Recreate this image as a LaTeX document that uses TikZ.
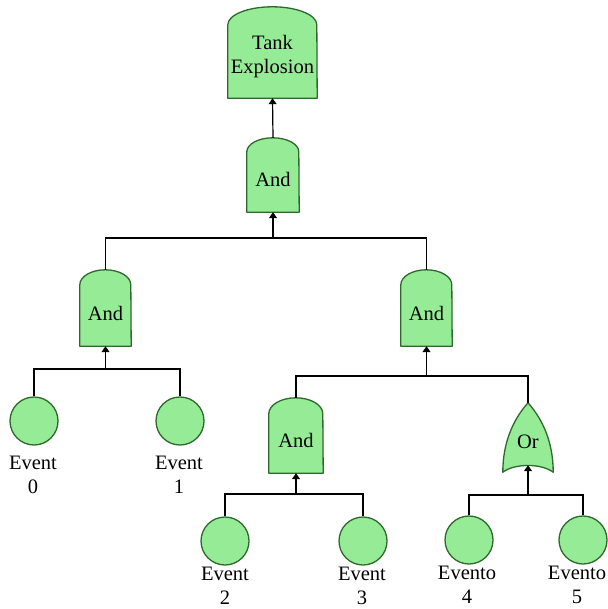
\documentclass[tikz,border=0pt]{standalone}
\usepackage{fontspec}
\setmainfont{Liberation Serif}
\usetikzlibrary{arrows.meta,calc,backgrounds}
\definecolor{gfill}{RGB}{150,235,150}
\definecolor{gline}{RGB}{45,105,45}
\newcommand\drawandgate[3]{\path[gshape] (#1.south west) -- ($(#1.north west)+(0,#3)$) arc[start angle=180,end angle=0,x radius=#2pt,y radius=#3pt] -- (#1.south east) -- cycle;}
\begin{document}
\begin{tikzpicture}[x=1pt,y=-1pt,
  font=\fontsize{20.5}{24}\selectfont,
  gate/.style={inner sep=0pt},
  gshape/.style={draw=gline,fill=gfill,line width=1.3pt,line join=round},
  evt/.style={circle,draw=gline,fill=gfill,line width=1.3pt,minimum size=48pt,inner sep=0pt},
  lbl/.style={anchor=north,inner sep=0pt,align=center},
  wire/.style={line width=1.2pt,black},
  arr/.style={wire,-{Triangle[width=8pt,length=6pt]}}]
\useasboundingbox (0,0) rectangle (607,609);
% gates
\node[gate,minimum width=89pt,minimum height=91pt,label={[yshift=-4pt,align=center,inner sep=0pt]center:Tank\\Explosion}] (top) at (272.5,52.5) {};
\node[gate,minimum width=52pt,minimum height=74pt,label={[yshift=-4pt]center:And}] (g1) at (273,175) {};
\node[gate,minimum width=51pt,minimum height=76pt,label={[yshift=-5pt]center:And}] (gL) at (105.5,308) {};
\node[gate,minimum width=51pt,minimum height=76pt,label={[yshift=-5pt]center:And}] (gR) at (426.5,308) {};
\node[gate,minimum width=54pt,minimum height=75pt,label={[yshift=-5pt]center:And}] (gB) at (296,435.5) {};
\node[gate,minimum width=50pt,minimum height=69pt,label={[yshift=-4.5pt]center:Or}] (or) at (528,437.5) {};
% events
\node[evt] (e0) at (34,421) {};
\node[evt] (e1) at (180,421) {};
\node[evt] (e2) at (225,541) {};
\node[evt] (e3) at (363,541) {};
\node[evt] (e4) at (469,540) {};
\node[evt] (e5) at (583,540) {};
\node[lbl] (l0) at (33,456) {Event\\0};
\node[lbl] (l1) at (179,456) {Event\\1};
\node[lbl] (l2) at (225,567) {Event\\2};
\node[lbl] (l3) at (362,567) {Event\\3};
\node[lbl] (l4) at (467,566) {Evento\\4};
\node[lbl] (l5) at (577,566) {Evento\\5};
% gate shapes
\begin{scope}[on background layer]
\drawandgate{top}{44.5}{18}
\drawandgate{g1}{26}{14}
\drawandgate{gL}{25.5}{15}
\drawandgate{gR}{25.5}{15}
\drawandgate{gB}{27}{16}
\path[gshape] (or.north) .. controls +(16,18) and +(0,-28) .. (or.south east)
  .. controls +(-12,-9) and +(12,-9) .. (or.south west)
  .. controls +(0,-28) and +(-16,18) .. (or.north) -- cycle;
\end{scope}
% connectors
\coordinate (j1) at (273,238);
\draw[wire] (gL.north) |- (j1) -| (gR.north);
\draw[arr] (j1) -- (g1.south);
\draw[arr] (g1.north) -- (top.south);
\coordinate (jL) at (105.5,369);
\draw[wire] (e0.north) |- (jL) -| (e1.north);
\draw[arr] (jL) -- (gL.south);
\coordinate (jR) at (426.5,376);
\draw[wire] (gB.north) |- (jR) -| (or.north);
\draw[arr] (jR) -- (gR.south);
\coordinate (jB) at (296,494);
\draw[wire] (e2.north) |- (jB) -| (e3.north);
\draw[arr] (jB) -- (gB.south);
\coordinate (jO) at (528,495);
\draw[wire] (e4.north) |- (jO) -| (e5.north);
\draw[arr] (jO) -- ($(or.south)+(0,-7)$);
\end{tikzpicture}
\end{document}
